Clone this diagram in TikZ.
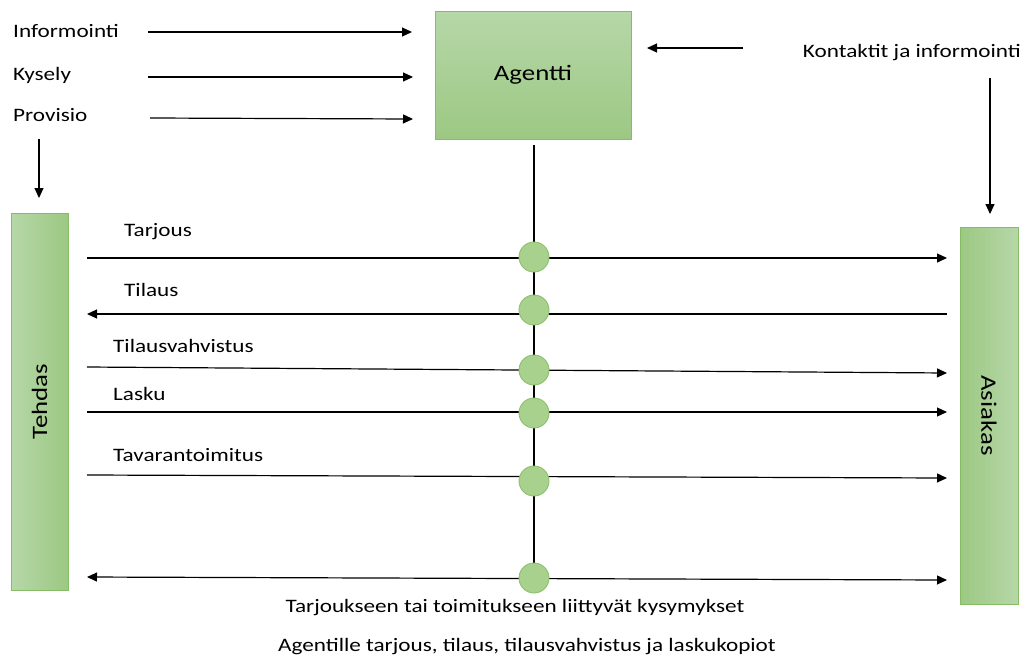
\documentclass[tikz,border=0pt]{standalone}
\usepackage{fontspec}
\setmainfont{Carlito}[FakeStretch=1.22]
\usetikzlibrary{arrows.meta}
\definecolor{glight}{HTML}{B6D7A8}
\definecolor{gdark}{HTML}{9CC883}
\definecolor{gedge}{HTML}{86BC64}
\definecolor{cfill}{HTML}{A9D18E}
\definecolor{cedge}{HTML}{8DBF6E}
\tikzset{
  lbl/.style={font=\fontsize{19}{22}\selectfont, inner sep=0pt, anchor=west},
  arr/.style={-{Triangle[length=10pt,width=9pt]}, line width=1.2pt},
  darr/.style={{Triangle[length=10pt,width=9pt]}-{Triangle[length=10pt,width=9pt]}, line width=1.2pt},
  ln/.style={line width=1.2pt},
  dot/.style={circle, draw=cedge, fill=cfill, line width=0.9pt, minimum size=30pt, inner sep=0pt},
  box/.style={draw=gedge, line width=1pt, inner sep=0pt}
}
\begin{document}
\begin{tikzpicture}[x=1pt,y=-1pt]
\useasboundingbox (0,0) rectangle (1025,659);
% boxes
\node[box, top color=glight, bottom color=gdark, minimum width=196pt, minimum height=128pt,
  font=\fontsize{22}{26}\selectfont] (agent) at (533,75) {Agentti};
\node[box, left color=glight, right color=gdark, minimum width=57pt, minimum height=377pt] (tehdas) at (39.5,401.5) {};
\node[rotate=90, font=\fontsize{22}{26}\selectfont] at (tehdas.center) {Tehdas};
\node[box, left color=gdark, right color=glight, minimum width=58pt, minimum height=377pt] (asiakas) at (989,415.5) {};
\node[rotate=-90, font=\fontsize{22}{26}\selectfont] at (asiakas.center) {Asiakas};

% top labels
\node[lbl] (info) at (13,31) {Informointi};
\node[lbl] (kys) at (13,75) {Kysely};
\node[lbl] (prov) at (13,115) {Provisio};
\node[lbl, anchor=east] (kont) at (1021,53) {Kontaktit ja informointi};

\coordinate (i1) at (148,32);  \coordinate (i2) at (412,32);
\coordinate (k1) at (148,77);  \coordinate (k2) at (413,77);
\coordinate (p1) at (150,118); \coordinate (p2) at (413,119);
\draw[arr] (i1) -- (i2);
\draw[arr] (k1) -- (k2);
\draw[arr] (p1) -- (p2);
\coordinate (pd1) at (39,139); \coordinate (pd2) at (39,198);
\draw[arr] (pd1) -- (pd2);
\coordinate (ko1) at (743,48); \coordinate (ko2) at (647,48);
\draw[arr] (ko1) -- (ko2);
\coordinate (kd1) at (990,78); \coordinate (kd2) at (990,214);
\draw[arr] (kd1) -- (kd2);

% vertical agent line
\coordinate (v0) at (534,145);
\coordinate (v1) at (534,578);
\draw[ln] (v0) -- (v1);

% horizontal flows
\coordinate (a1) at (87,258);  \coordinate (a2) at (947,258);
\coordinate (b1) at (87,314);  \coordinate (b2) at (947,314);
\coordinate (c1) at (87,367);  \coordinate (c2) at (947,373);
\coordinate (d1) at (87,412);  \coordinate (d2) at (947,412);
\coordinate (e1) at (87,475);  \coordinate (e2) at (947,478);
\coordinate (f1) at (87,577);  \coordinate (f2) at (947,580);
\draw[arr] (a1) -- (a2);
\draw[arr] (b2) -- (b1);
\draw[arr] (c1) -- (c2);
\draw[arr] (d1) -- (d2);
\draw[arr] (e1) -- (e2);
\draw[darr] (f1) -- (f2);

\node[dot] (o1) at (534,257) {};
\node[dot] (o2) at (534,310) {};
\node[dot] (o3) at (534,370) {};
\node[dot] (o4) at (534,413) {};
\node[dot] (o5) at (534,481) {};
\node[dot] (o6) at (534,578) {};

\node[lbl] (t1) at (124,232) {Tarjous};
\node[lbl] (t2) at (124,290) {Tilaus};
\node[lbl] (t3) at (113,346) {Tilausvahvistus};
\node[lbl] (t4) at (113,394) {Lasku};
\node[lbl] (t5) at (113,455) {Tavarantoimitus};

\node[font=\fontsize{19}{22}\selectfont, inner sep=0pt] (q1) at (515,608) {Tarjoukseen tai toimitukseen liittyvät kysymykset};
\node[font=\fontsize{19}{22}\selectfont, inner sep=0pt] (q2) at (527,647) {Agentille tarjous, tilaus, tilausvahvistus ja laskukopiot};
\end{tikzpicture}
\end{document}
